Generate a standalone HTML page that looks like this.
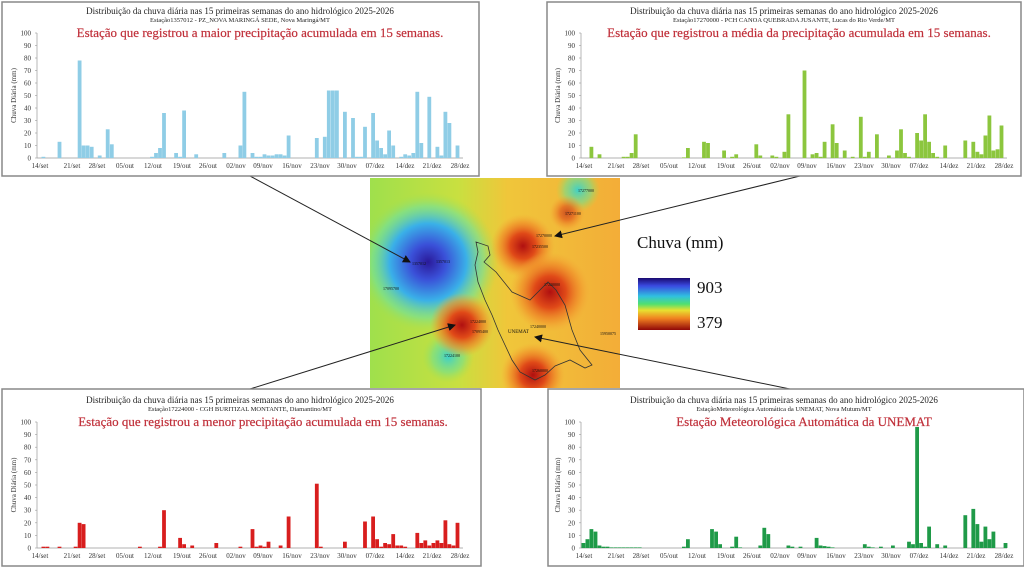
<!DOCTYPE html>
<html><head><meta charset="utf-8"><style>
html,body{margin:0;padding:0;background:#fff;width:1024px;height:567px;overflow:hidden}
svg{display:block}
text{font-family:"Liberation Serif",serif}
</style></head><body>
<svg id="s" width="1024" height="567" viewBox="0 0 1024 567" xmlns="http://www.w3.org/2000/svg">
<defs>
<clipPath id="mc"><rect x="370" y="178" width="250" height="210"/></clipPath>
<linearGradient id="base" x1="0" y1="0" x2="1" y2="0">
<stop offset="0" stop-color="#9fe04c"/><stop offset="0.35" stop-color="#c8e040"/><stop offset="0.55" stop-color="#f0c63a"/><stop offset="1" stop-color="#f3ad38"/></linearGradient>
<radialGradient id="blue"><stop offset="0" stop-color="#2a1a9a"/><stop offset="0.25" stop-color="#3a50d8"/><stop offset="0.55" stop-color="#3ab0e8"/><stop offset="0.8" stop-color="#6ee0a0" stop-opacity="0.6"/><stop offset="1" stop-color="#a0e050" stop-opacity="0"/></radialGradient>
<radialGradient id="red"><stop offset="0" stop-color="#b01010"/><stop offset="0.4" stop-color="#e04a18"/><stop offset="0.75" stop-color="#f08a28" stop-opacity="0.6"/><stop offset="1" stop-color="#f3a838" stop-opacity="0"/></radialGradient>
<radialGradient id="cyan"><stop offset="0" stop-color="#40d0c8"/><stop offset="0.6" stop-color="#70e090" stop-opacity="0.6"/><stop offset="1" stop-color="#a0e050" stop-opacity="0"/></radialGradient>
<linearGradient id="cb" x1="0" y1="0" x2="0" y2="1">
<stop offset="0" stop-color="#1a0a70"/><stop offset="0.15" stop-color="#3a4ae0"/><stop offset="0.35" stop-color="#30c0e0"/><stop offset="0.5" stop-color="#50e070"/><stop offset="0.62" stop-color="#e8e030"/><stop offset="0.78" stop-color="#f08020"/><stop offset="1" stop-color="#900808"/></linearGradient>
<marker id="ah" markerWidth="8" markerHeight="8" refX="7" refY="4" orient="auto" markerUnits="userSpaceOnUse"><path d="M0,0 L8,4 L0,8 z" fill="#111"/></marker>
</defs>
<g id="map" clip-path="url(#mc)">
<rect x="370" y="178" width="250" height="210" fill="url(#base)"/>
<circle cx="428" cy="262" r="70" fill="url(#blue)"/>
<circle cx="448" cy="357" r="26" fill="url(#cyan)"/>
<circle cx="578" cy="190" r="22" fill="url(#cyan)"/>
<circle cx="462" cy="325" r="32" fill="url(#red)"/>
<circle cx="523" cy="246" r="32" fill="url(#red)"/>
<circle cx="550" cy="292" r="40" fill="url(#red)"/>
<circle cx="533" cy="375" r="32" fill="url(#red)"/>
<circle cx="567" cy="213" r="18" fill="url(#red)" opacity="0.6"/>
<path d="M476,242 L488,246 L490,255 L484,262 L496,272 L512,292 L530,300 L540,290 L548,282 L556,290 L565,305 L572,330 L580,350 L592,365 L585,368 L570,360 L555,366 L545,375 L535,380 L520,372 L512,360 L505,345 L498,330 L492,315 L485,300 L478,282 L475,265 L478,252 Z" fill="none" stroke="#333" stroke-width="0.8"/>
<g font-size="4" fill="#111"><text x="412" y="265">1357012</text><text x="436" y="263">1357013</text><text x="383" y="290">17095700</text><text x="470" y="323">17224000</text><text x="472" y="333">17095400</text><text x="444" y="357">17224100</text><text x="536" y="237">17270000</text><text x="532" y="248">17235500</text><text x="565" y="215">17271100</text><text x="578" y="192">17277000</text><text x="544" y="286">17220000</text><text x="530" y="328">17240000</text><text x="508" y="333" font-size="5">UNEMAT</text><text x="600" y="335">15950075</text><text x="532" y="372">17260000</text></g>
</g>
<text x="637" y="248" font-size="17" fill="#111">Chuva (mm)</text>
<rect x="638" y="278" width="52" height="52" fill="url(#cb)"/>
<text x="697" y="293" font-size="17" fill="#111">903</text>
<text x="697" y="328" font-size="17" fill="#111">379</text>
<g stroke="#222" stroke-width="1" fill="none">
<line x1="250" y1="176" x2="410" y2="262" marker-end="url(#ah)"/>
<line x1="800" y1="176" x2="555" y2="236" marker-end="url(#ah)"/>
<line x1="250" y1="389" x2="455" y2="325" marker-end="url(#ah)"/>
<line x1="790" y1="389" x2="535" y2="337" marker-end="url(#ah)"/>
</g>
<g id="panels"></g>
</svg>
<script>
var P=[
{ox:0,oy:0,w:477,h:174,bx:2,by:2,col:"#8fcde6",st:"Estação1357012 - PZ_NOVA MARINGÁ SEDE, Nova Maringá/MT",rt:"Estação que registrou a maior precipitação acumulada  em 15 semanas.",rx:260,
d:[[1,1],[5,13],[10,78],[11,10],[12,10],[13,9],[15,2],[17,23],[18,11],[28,1],[29,4],[30,8],[31,36],[34,4],[35,1],[36,38],[39,3],[46,4],[50,10],[51,53],[53,4],[54,1],[55,1],[56,3],[57,2],[58,2],[59,3],[60,3],[61,2],[62,18],[69,16],[71,17],[72,54],[73,54],[74,54],[76,37],[78,32],[79,1],[80,1],[81,25],[83,36],[84,14],[85,8],[86,3],[87,22],[88,10],[90,1],[91,3],[92,2],[93,4],[94,53],[95,12],[97,49],[99,9],[100,2],[101,37],[102,28],[104,10]]},
{ox:544,oy:0,w:474,h:174,bx:547,by:2,col:"#8cc63e",st:"Estação17270000 - PCH CANOA QUEBRADA JUSANTE, Lucas do Rio Verde/MT",rt:"Estação que registrou a média da precipitação acumulada  em 15 semanas.",rx:255,
d:[[2,9],[4,3],[10,1],[11,1],[12,4],[13,19],[25,0.5],[26,8],[30,13],[31,12],[35,6],[37,1],[38,3],[43,11],[44,2],[47,2],[48,1],[50,5],[51,35],[55,70],[57,3],[58,4],[59,1],[60,13],[62,27],[63,12],[65,6],[67,1],[69,33],[70,1],[71,5],[73,19],[76,2],[78,6],[79,23],[80,4],[81,1],[83,20],[84,14],[85,35],[86,13],[87,4],[88,1],[90,10],[95,14],[97,13],[98,5],[99,3],[100,18],[101,34],[102,6],[103,7],[104,26]]},
{ox:0,oy:387,w:479,h:177,bx:2,by:389,col:"#d81e1e",st:"Estação17224000 - CGH BURITIZAL MONTANTE, Diamantino/MT",rt:"Estação que registrou a menor precipitação acumulada  em 15 semanas.",rx:263,
d:[[1,1],[2,1],[5,1],[9,1],[10,20],[11,19],[25,1],[30,1],[31,30],[35,8],[36,3],[38,2],[44,4],[50,1],[53,15],[54,1],[55,2],[56,1],[57,5],[60,2],[62,25],[69,51],[70,1],[76,5],[81,21],[83,25],[84,7],[85,1],[86,4],[87,3],[88,11],[89,2],[90,2],[91,1],[94,12],[95,4],[96,6],[97,2],[98,4],[99,6],[100,4],[101,22],[102,3],[103,2],[104,20]]},
{ox:544,oy:387,w:476,h:177,bx:548,by:389,col:"#1f9a48",st:"EstaçãoMeteorológica Automática da UNEMAT, Nova Mutum/MT",rt:"Estação Meteorológica Automática  da UNEMAT",rx:260,
d:[[0,4],[1,7],[2,15],[3,13],[4,2],[5,1],[6,1],[7,0.5],[8,0.5],[9,0.5],[10,0.5],[11,0.5],[12,0.5],[13,0.5],[14,0.5],[25,1],[26,7],[32,15],[33,13],[34,3],[37,1],[38,9],[39,0.5],[44,2],[45,16],[46,11],[51,2],[52,1],[54,1],[58,8],[59,2],[60,1.5],[61,1],[62,0.5],[70,3],[71,1],[72,0.5],[74,1],[77,2],[81,5],[82,3],[83,96],[84,4],[85,1],[86,17],[88,3],[90,2],[95,26],[97,31],[98,19],[99,5],[100,17],[101,7],[102,13],[105,4]]}
];
var labs=["14/set","21/set","28/set","05/out","12/out","19/out","26/out","02/nov","09/nov","16/nov","23/nov","30/nov","07/dez","14/dez","21/dez","28/dez"];
var lx=[40,72,97,125,153,182,208,236,263,292,320,347,375,405,432,460];
var h="";
P.forEach(function(p){
 var ox=p.ox, top=p.oy+33+(p.oy?2:0), bot=p.oy+158+(p.oy?3:0), x0=ox+37, x1=ox+463, dx=4.02;
 var sc=(bot-top)/100;
 h+='<rect x="'+p.bx+'" y="'+p.by+'" width="'+p.w+'" height="'+p.h+'" fill="#fff" stroke="#888" stroke-width="1.5"/>';
 h+='<text x="'+(ox+240)+'" y="'+(p.oy+14+(p.oy?2:0))+'" font-size="9" text-anchor="middle" fill="#222">Distribuição da chuva diária nas 15 primeiras semanas do ano hidrológico 2025-2026</text>';
 h+='<text x="'+(ox+240)+'" y="'+(p.oy+22+(p.oy?2:0))+'" font-size="6.5" text-anchor="middle" fill="#222">'+p.st+'</text>';
 h+='<text x="'+(ox+p.rx)+'" y="'+(p.oy+37+(p.oy?2:0))+'" font-size="13" text-anchor="middle" fill="#c0303a" stroke="#c0303a" stroke-width="0.2">'+p.rt+'</text>';
 for(var v=0;v<=100;v+=10){var y=bot-v*sc;
  h+='<text x="'+(ox+31)+'" y="'+(y+2.5)+'" font-size="7" text-anchor="end" fill="#333">'+v+'</text>';
  h+='<line x1="'+(x0-2)+'" y1="'+y+'" x2="'+x0+'" y2="'+y+'" stroke="#999" stroke-width="0.6"/>';}
 h+='<line x1="'+x0+'" y1="'+top+'" x2="'+x0+'" y2="'+bot+'" stroke="#999" stroke-width="0.7"/>';
 h+='<line x1="'+x0+'" y1="'+bot+'" x2="'+x1+'" y2="'+bot+'" stroke="#999" stroke-width="0.7"/>';
 h+='<text transform="translate('+(ox+16)+','+((top+bot)/2)+') rotate(-90)" font-size="7" text-anchor="middle" fill="#333">Chuva Diária (mm)</text>';
 for(var i=0;i<labs.length;i++){
  h+='<text x="'+(ox+lx[i])+'" y="'+(bot+10)+'" font-size="7" text-anchor="middle" fill="#333">'+labs[i]+'</text>';
 }
 p.d.forEach(function(b){var bh=b[1]*sc;
  h+='<rect x="'+(x0+0.5+b[0]*dx).toFixed(1)+'" y="'+(bot-bh).toFixed(1)+'" width="3.8" height="'+bh.toFixed(1)+'" fill="'+p.col+'"/>';});
});
document.getElementById("panels").innerHTML=h;
</script>
</body></html>
